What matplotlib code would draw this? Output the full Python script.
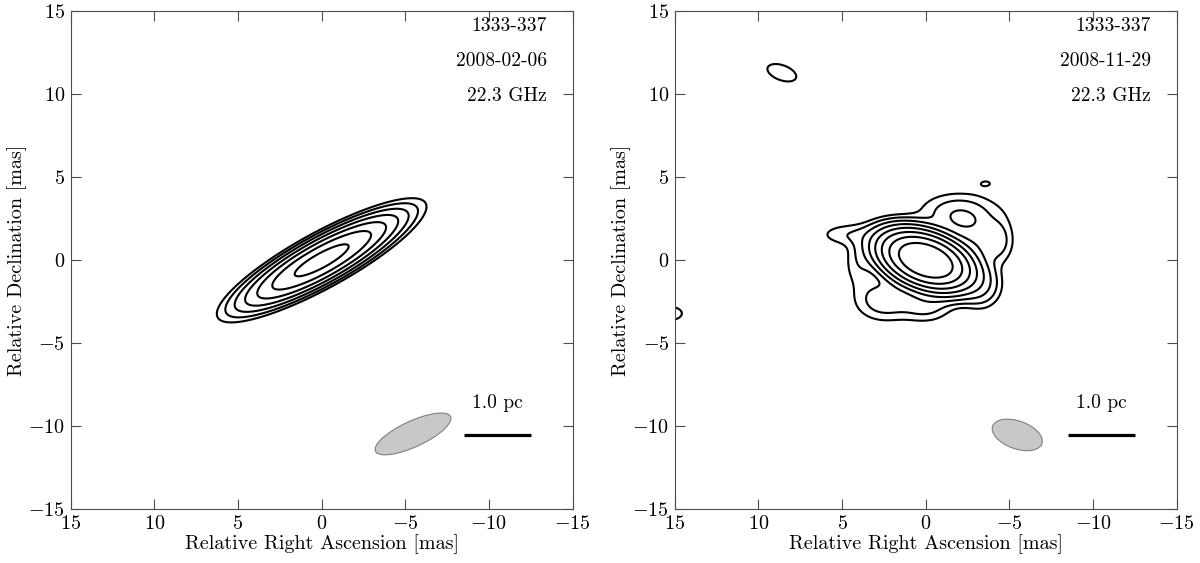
import numpy as np
import matplotlib
matplotlib.use("Agg")
import matplotlib.pyplot as plt
from matplotlib.patches import Ellipse

plt.rcParams['font.family'] = 'serif'
plt.rcParams['font.serif'] = ['cmr10']
plt.rcParams['mathtext.fontset'] = 'cm'
plt.rcParams['axes.formatter.use_mathtext'] = True

# source and epoch labels
source = "1333-337"
epochs = ["2008-02-06", "2008-11-29"]
freq = "22.3 GHz"

# contour levels (relative units, factor 2 steps)
levels_1 = [1, 2, 4, 8, 16, 32, 64]
levels_2 = [1, 2, 4, 8, 16, 32, 64, 128]

# gaussian model components: x, y [mas], peak, sigma major/minor [mas], angle [deg]
comp1_x = [0.0]
comp1_y = [0.0]
comp1_amp = [86.0]
comp1_smaj = [2.38]
comp1_smin = [0.56]
comp1_pa = [151.0]

# core, top lobe, knot, right lobe, filler, lower right, lower left, south, west, west spur, islands
comp2_x = [0.0, -2.0, -2.25, -4.35, -3.0, -3.3, 2.5, 0.0, 4.0, 4.8, 8.6, -3.6, 15.3]
comp2_y = [0.0, 2.9, 2.45, 1.2, 1.1, -1.65, -2.4, -2.7, -0.2, 1.55, 11.3, 4.65, -3.2]
comp2_amp = [294.0, 3.0, 2.4, 2.3, 2.4, 2.8, 3.0, 2.6, 1.6, 1.6, 1.4, 0.97, 1.3]
comp2_smaj = [1.3, 1.5, 0.68, 0.6, 0.9, 0.75, 1.1, 1.0, 0.6, 1.1, 1.1, 0.6, 1.0]
comp2_smin = [0.72, 0.75, 0.4, 0.9, 0.8, 0.8, 0.8, 0.65, 1.0, 0.45, 0.55, 0.3, 0.55]
comp2_pa = [20.0, 0.0, 10.0, 0.0, 0.0, 0.0, 0.0, 0.0, 0.0, 0.0, 20.0, 0.0, 0.0]

# restoring beams: x, y, width, height, angle
beam1 = [-5.46, -10.46, 4.95, 1.55, 155.0]
beam2 = [-5.47, -10.52, 3.13, 1.67, 20.0]

# scale bar (1.0 pc)
bar_x = [-8.5, -12.5]
bar_y = -10.5
bar_label = "1.0 pc"


def model(X, Y, xs, ys, amps, smaj, smin, pa):
    img = np.zeros_like(X)
    for x0, y0, a, sa, sb, p in zip(xs, ys, amps, smaj, smin, pa):
        t = np.deg2rad(p)
        u = (X - x0) * np.cos(t) + (Y - y0) * np.sin(t)
        v = -(X - x0) * np.sin(t) + (Y - y0) * np.cos(t)
        img += a * np.exp(-0.5 * ((u / sa) ** 2 + (v / sb) ** 2))
    return img


g = np.linspace(-16, 16, 801)
X, Y = np.meshgrid(g, g)
img1 = model(X, Y, comp1_x, comp1_y, comp1_amp, comp1_smaj, comp1_smin, comp1_pa)
img2 = model(X, Y, comp2_x, comp2_y, comp2_amp, comp2_smaj, comp2_smin, comp2_pa)

fig = plt.figure(figsize=(12, 5.63), dpi=100)
ax1 = fig.add_axes([0.0589, 0.0954, 0.4183, 0.8845])
ax2 = fig.add_axes([0.5623, 0.0954, 0.4183, 0.8845])

panels = [(ax1, img1, levels_1, beam1, epochs[0]), (ax2, img2, levels_2, beam2, epochs[1])]
for ax, img, lev, beam, ep in panels:
    ax.contour(X, Y, img, levels=lev, colors='black', linewidths=1.5)
    ax.add_patch(Ellipse((beam[0], beam[1]), beam[2], beam[3], angle=beam[4],
                         facecolor='#c8c8c8', edgecolor='#7f7f7f', linewidth=0.8))
    ax.plot(bar_x, [bar_y, bar_y], color='black', linewidth=2.3, solid_capstyle='butt')
    ax.text(np.mean(bar_x), -8.6, bar_label, ha='center', va='center', fontsize=14)
    ax.text(-13.45, 14.1, source, ha='right', va='center', fontsize=14)
    ax.text(-13.45, 12.0, ep, ha='right', va='center', fontsize=14)
    ax.text(-13.45, 9.9, freq, ha='right', va='center', fontsize=14)
    ax.set_xlim(15, -15)
    ax.set_ylim(-15, 15)
    ax.set_xticks([15, 10, 5, 0, -5, -10, -15])
    ax.set_yticks([-15, -10, -5, 0, 5, 10, 15])
    ax.tick_params(direction='in', top=True, right=True, length=7, width=0.8,
                   labelsize=14.5, color='0.3', pad=4)
    for s in ax.spines.values():
        s.set_color('0.3')
        s.set_linewidth(0.8)
    ax.set_xlabel("Relative Right Ascension [mas]", fontsize=14.5, labelpad=1)
    ax.set_ylabel("Relative Declination [mas]", fontsize=14.5, labelpad=1)

fig.savefig("out.png", dpi=100)
